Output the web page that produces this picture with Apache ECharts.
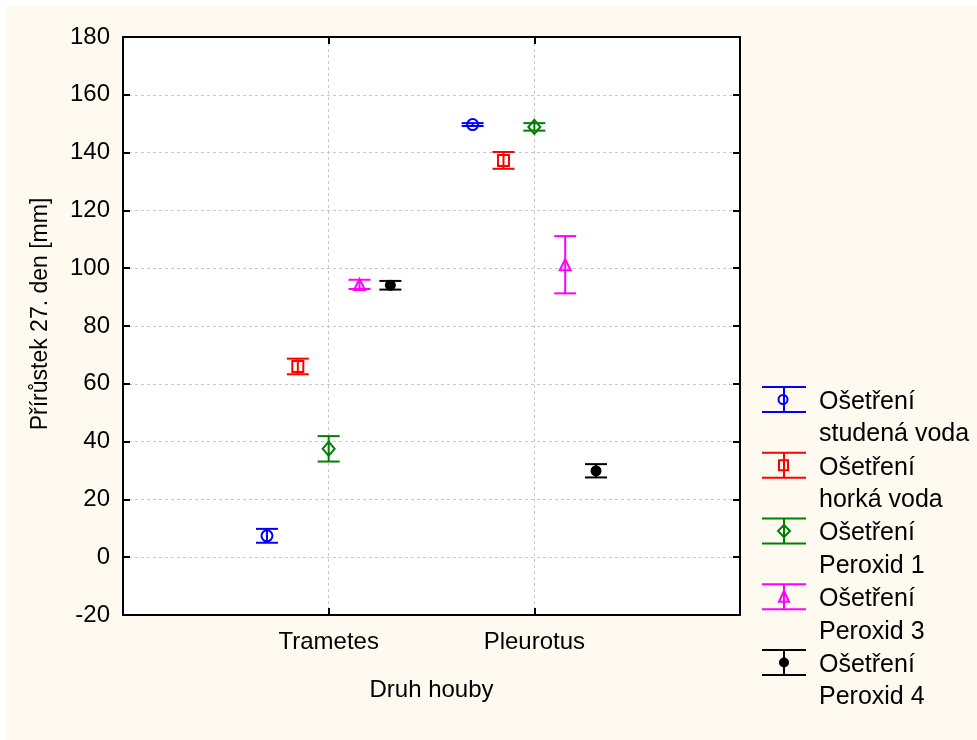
<!DOCTYPE html>
<html>
<head>
<meta charset="utf-8">
<script src="https://cdn.jsdelivr.net/npm/echarts@6/dist/echarts.min.js"></script>
<style>
html,body{margin:0;padding:0;background:#fff;}
#chart{width:977px;height:740px;}
</style>
</head>
<body>
<div id="chart"></div>
<script>
// ---- data ----
const categories = ['Trametes', 'Pleurotus'];
const seriesNames = ['Ošetření\nstudená voda', 'Ošetření\nhorká voda', 'Ošetření\nPeroxid 1', 'Ošetření\nPeroxid 3', 'Ošetření\nPeroxid 4'];
const meanStudena = [7.4, 149.7];
const errStudena = [2.4, 0.5];
const meanHorka = [66.0, 137.3];
const errHorka = [2.7, 2.9];
const meanPeroxid1 = [37.5, 148.9];
const errPeroxid1 = [4.4, 1.3];
const meanPeroxid3 = [94.4, 101.2];
const errPeroxid3 = [1.6, 9.9];
const meanPeroxid4 = [94.1, 29.9];
const errPeroxid4 = [1.5, 2.3];
const yTicks = [-20, 0, 20, 40, 60, 80, 100, 120, 140, 160, 180];
const xTitle = 'Druh houby';
const yTitle = 'Přírůstek 27. den [mm]';

// ---- style / layout ----
const means = [meanStudena, meanHorka, meanPeroxid1, meanPeroxid3, meanPeroxid4];
const errs = [errStudena, errHorka, errPeroxid1, errPeroxid3, errPeroxid4];
const colors = ['#0000ff', '#ff0000', '#008000', '#ff00ff', '#000000'];
const offsets = [-0.3, -0.15, 0, 0.15, 0.3];
const FONT = '"Liberation Sans", Arial, sans-serif';
const symbols = [
  {symbol: 'circle', size: 11, fill: 'transparent'},
  {symbol: 'rect', size: 11, fill: 'transparent'},
  {symbol: 'diamond', size: [12, 14], fill: 'transparent'},
  {symbol: 'triangle', size: 11, fill: 'transparent'},
  {symbol: 'circle', size: 11, fill: '#000000'}
];

const chart = echarts.init(document.getElementById('chart'));

const series = [];
means.forEach((m, s) => {
  const data = categories.map((c, i) => [i + 1 + offsets[s], m[i], errs[s][i]]);
  series.push({
    type: 'custom',
    name: seriesNames[s],
    z: 3,
    renderItem: function (params, api) {
      const x = api.value(0), mv = api.value(1), e = api.value(2);
      const top = api.coord([x, mv + e]);
      const bot = api.coord([x, mv - e]);
      const hw = 11;
      const st = {stroke: colors[s], lineWidth: 2};
      return {type: 'group', children: [
        {type: 'line', shape: {x1: top[0], y1: top[1], x2: bot[0], y2: bot[1]}, style: st},
        {type: 'line', shape: {x1: top[0] - hw, y1: top[1], x2: top[0] + hw, y2: top[1]}, style: st},
        {type: 'line', shape: {x1: bot[0] - hw, y1: bot[1], x2: bot[0] + hw, y2: bot[1]}, style: st}
      ]};
    },
    data: data
  });
  series.push({
    type: 'scatter',
    name: seriesNames[s] + '_m',
    z: 2,
    symbol: symbols[s].symbol,
    symbolSize: symbols[s].size,
    itemStyle: {color: symbols[s].fill, borderColor: colors[s], borderWidth: s === 4 ? 0 : 2, opacity: 1},
    data: data.map(d => [d[0], d[1]])
  });
});

// background, y title and legend drawn as graphic
const graphics = [
  {type: 'rect', z: -100, shape: {x: 6, y: 6, width: 971, height: 734}, style: {fill: '#fffaef'}},
  {type: 'text', x: 41, y: 314, rotation: Math.PI / 2,
    style: {text: yTitle, x: 0, y: 0, font: '23px ' + FONT, fill: '#000', align: 'center', verticalAlign: 'middle', textAlign: 'center', textVerticalAlign: 'middle'}}
];
seriesNames.forEach((name, s) => {
  const cy = 399.5 + s * 65.75;
  const cx = 784;
  const st = {stroke: colors[s], lineWidth: 2};
  graphics.push({type: 'line', shape: {x1: 762, y1: cy - 12.5, x2: 806, y2: cy - 12.5}, style: st});
  graphics.push({type: 'line', shape: {x1: 762, y1: cy + 12.5, x2: 806, y2: cy + 12.5}, style: st});
  graphics.push({type: 'line', shape: {x1: cx, y1: cy - 12.5, x2: cx, y2: cy + 12.5}, style: st});
  const ms = {stroke: colors[s], lineWidth: 2, fill: 'transparent'};
  if (s === 0) graphics.push({type: 'circle', shape: {cx: cx - 1, cy: cy, r: 4.5}, style: ms});
  if (s === 1) graphics.push({type: 'rect', shape: {x: cx - 5, y: cy - 5, width: 9, height: 10}, style: ms});
  if (s === 2) graphics.push({type: 'polygon', shape: {points: [[cx, cy - 6], [cx + 6, cy], [cx, cy + 6], [cx - 6, cy]]}, style: ms});
  if (s === 3) graphics.push({type: 'polygon', shape: {points: [[cx, cy - 6], [cx + 5, cy + 5], [cx - 5, cy + 5]]}, style: ms});
  if (s === 4) graphics.push({type: 'circle', shape: {cx: cx, cy: cy, r: 5}, style: {fill: '#000'}});
  graphics.push({type: 'text', style: {text: name, x: 819, y: cy + 2.5 - 16.25, font: '25px ' + FONT, fill: '#000', lineHeight: 32.5, verticalAlign: 'top', textVerticalAlign: 'top'}});
});

function axisLine() { return {show: true, onZero: false, lineStyle: {color: '#000', width: 2}}; }
function tick() { return {show: true, inside: true, length: 7, lineStyle: {color: '#000', width: 2}}; }
function split() { return {show: true, lineStyle: {color: '#c8c8c8', width: 1, type: [3, 3]}}; }

chart.setOption({
  backgroundColor: '#ffffff',
  animation: false,
  textStyle: {fontFamily: FONT},
  grid: {left: 123, right: 237, top: 37, bottom: 125, show: true, backgroundColor: '#ffffff', borderWidth: 0},
  xAxis: [
    {type: 'value', position: 'bottom', min: 0, max: 3, interval: 1,
      axisLine: axisLine(), axisTick: tick(), splitLine: split(),
      axisLabel: {fontSize: 24, color: '#000', margin: 15, fontFamily: FONT,
        formatter: v => categories[Math.round(v) - 1] || ''},
      name: xTitle, nameLocation: 'middle', nameGap: 63,
      nameTextStyle: {fontSize: 24, color: '#000', fontFamily: FONT}},
    {type: 'value', position: 'top', min: 0, max: 3, interval: 1,
      axisLine: axisLine(), axisTick: tick(), splitLine: {show: false}, axisLabel: {show: false}}
  ],
  yAxis: [
    {type: 'value', position: 'left', min: yTicks[0], max: yTicks[yTicks.length - 1], interval: 20,
      axisLine: axisLine(), axisTick: tick(), splitLine: split(),
      axisLabel: {fontSize: 24, color: '#000', margin: 13, fontFamily: FONT}},
    {type: 'value', position: 'right', min: yTicks[0], max: yTicks[yTicks.length - 1], interval: 20,
      axisLine: axisLine(), axisTick: tick(), splitLine: {show: false}, axisLabel: {show: false}}
  ],
  graphic: graphics,
  series: series
});
</script>
</body>
</html>
